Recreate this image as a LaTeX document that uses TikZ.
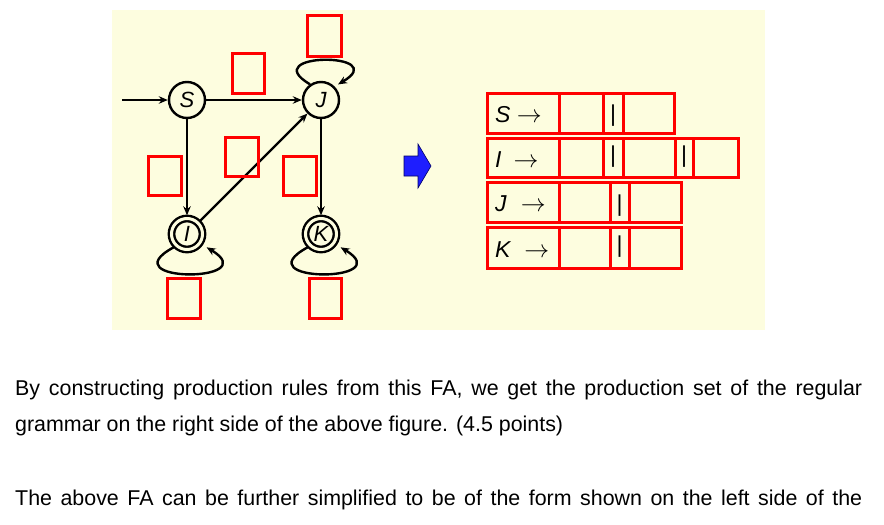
\documentclass[tikz,border=0pt]{standalone}
\usepackage{fontspec}
\setmainfont{Liberation Sans}
\usetikzlibrary{calc,arrows.meta}
\definecolor{bgyellow}{RGB}{253,253,223}
\definecolor{boxred}{RGB}{255,0,0}
\definecolor{arrowblue}{RGB}{30,30,255}

\begin{document}
\begin{tikzpicture}[x=1pt,y=-1pt,>={Stealth[length=9pt,width=7.5pt]},
  fastate/.style={circle,draw,line width=2.4pt,minimum size=36pt,inner sep=0pt,
    font=\fontsize{22}{22}\selectfont\itshape},
  accept/.style={fastate,minimum size=31pt,double=bgyellow,double distance=3pt,outer sep=3.2pt},
  trans/.style={->,line width=2.4pt},
  slot/.style={draw=boxred,line width=3pt},
  rowtext/.style={anchor=base west,inner sep=0pt,font=\fontsize{23}{23}\selectfont},
  bar/.style={inner sep=0pt,font=\fontsize{23}{23}\selectfont},
  para/.style={anchor=base west,inner sep=0pt,font=\fontsize{21.4}{36}\selectfont}]
  \useasboundingbox (0,0) rectangle (884,525);
  \fill[bgyellow] (112,10) rectangle (765,330);

  \node[fastate] (S) at (187,100) {S};
  \node[fastate] (J) at (321,100) {J};
  \node[accept] (I) at (187,234) {I};
  \node[accept] (K) at (321,234) {K};
  \coordinate (in) at (122,100);

  \draw[trans] (in) -- (S);
  \draw[trans] (S) -- (J);
  \draw[trans] (S) -- (I);
  \draw[trans] (I) -- (J);
  \draw[trans] (J) -- (K);
  \draw[trans,shorten >=4pt] (J.125) .. controls ($(J)+(-66,-48)$) and ($(J)+(72,-48)$) .. (J.45);
  \draw[trans,shorten >=5pt] (I.225) .. controls ($(I)+(-79,49)$) and ($(I)+(79,49)$) .. (I.-35);
  \draw[trans,shorten >=5pt] (K.225) .. controls ($(K)+(-79,49)$) and ($(K)+(79,49)$) .. (K.-35);

  \draw[slot] (307,15) rectangle (341,56);
  \draw[slot] (232,53) rectangle (264,93);
  \draw[slot] (148,156) rectangle (181,195);
  \draw[slot] (225,137) rectangle (258,176);
  \draw[slot] (283,156) rectangle (316,195);
  \draw[slot] (167,278) rectangle (200,318);
  \draw[slot] (309,278) rectangle (341,318);

  \fill[arrowblue,draw=blue!40!black,line width=0.6pt] (404,156) -- (418,156) -- (418,144)
    -- (431,166) -- (418,188) -- (418,176) -- (404,176) -- cycle;

  \draw[slot] (487,93) rectangle (674,133);
  \draw[slot] (559,93) -- (559,133) (603,93) -- (603,133) (623,93) -- (623,133);
  \node[rowtext] (ruleS) at (495,122) {\textit{S} $\rightarrow$};
  \node[bar] (barS) at (613,116) {|};

  \draw[slot] (487,138) rectangle (738,177);
  \draw[slot] (559,138) -- (559,177) (603,138) -- (603,177) (623,138) -- (623,177)
    (675,138) -- (675,177) (693,138) -- (693,177);
  \node[rowtext] (ruleI) at (495,167) {\textit{I}\hspace{12pt}$\rightarrow$};
  \node[bar] (barIa) at (613,157) {|};
  \node[bar] (barIb) at (684,157) {|};

  \draw[slot] (487,182) rectangle (681,222);
  \draw[slot] (559,182) -- (559,222) (610,182) -- (610,222) (629,182) -- (629,222);
  \node[rowtext] (ruleJ) at (495,211) {\textit{J}\hspace{14pt}$\rightarrow$};
  \node[bar] (barJ) at (619.5,206) {|};

  \draw[slot] (487,227) rectangle (681,268);
  \draw[slot] (559,227) -- (559,268) (610,227) -- (610,268) (629,227) -- (629,268);
  \node[rowtext] (ruleK) at (495,257) {\textit{K}\hspace{13pt}$\rightarrow$};
  \node[bar] (barK) at (619.5,247) {|};

  \node[para] (line1) at (15,395) {\makebox[847pt][s]{By constructing production rules from this FA, we get the production set of the regular}};
  \node[para] (line2) at (15,431) {grammar on the right side of the above figure. (4.5 points)};
  \node[para] (line3) at (15,505) {\makebox[847pt][s]{The above FA can be further simplified to be of the form shown on the left side of the}};
\end{tikzpicture}
\end{document}
